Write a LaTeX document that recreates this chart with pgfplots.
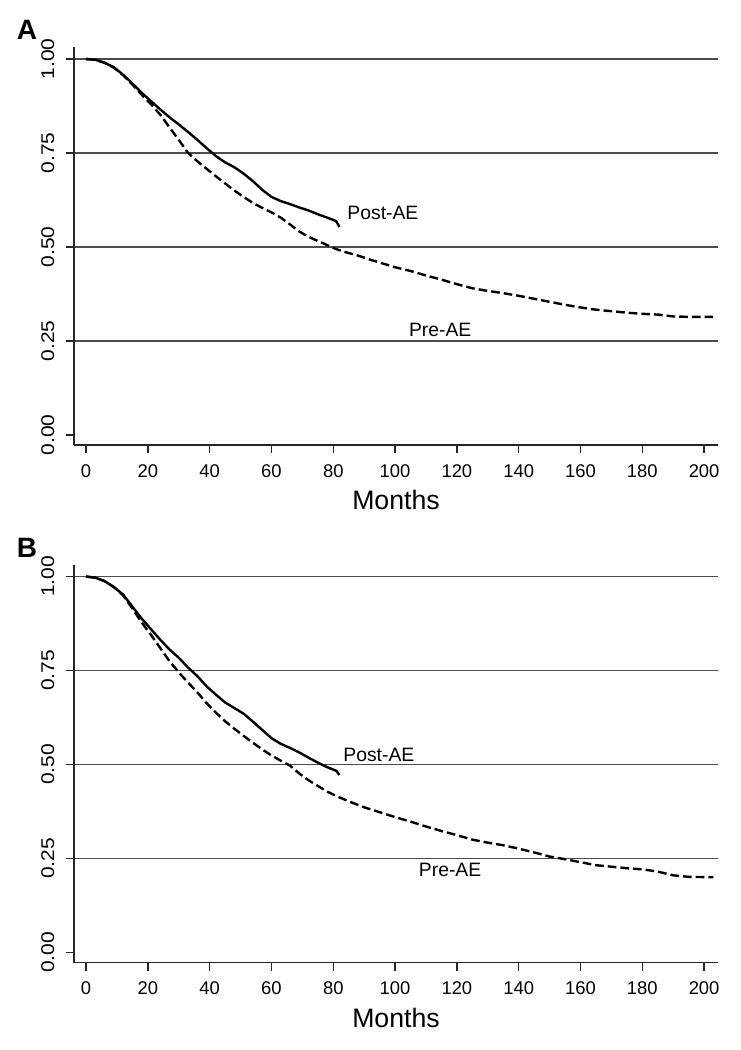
\documentclass[border=0pt]{standalone}
\usepackage{fontspec}
\setmainfont{Liberation Sans}
\newfontfamily\widefont[FakeStretch=1.14]{Liberation Sans}
\usepackage{pgfplots}
\pgfplotsset{compat=1.18}

\pgfplotsset{km/.style={
  scale only axis, width=483pt, height=298.5pt,
  xmin=-3.9, xmax=204.5, ymin=-0.027, ymax=1.032,
  axis x line*=bottom, axis y line*=left,
  axis line style={line width=1.3pt, color=black!85},
  xtick={0,20,...,200},
  ytick={0.25,0.5,0.75,1}, yticklabels={0.25,0.50,0.75,1.00},
  extra y ticks={0}, extra y tick labels={0.00}, extra y tick style={grid=none},
  ymajorgrids, major grid style={line width=1.2pt, color=black!70},
  tick align=outside, major tick length=6pt,
  tick style={line width=1pt, color=black!85},
  /pgf/number format/assume math mode=true,
  xticklabel style={font=\fontsize{13.8}{15}\selectfont, inner sep=0pt, anchor=north},
  xticklabel shift=8.5pt,
  yticklabel style={rotate=90, anchor=south, inner sep=0pt, font=\widefont\fontsize{13.8}{15}\selectfont},
  yticklabel shift=8.5pt,
  xlabel={Months}, xlabel style={font=\fontsize{20}{22}\selectfont, anchor=center, at={(rel axis cs:0.5,0)}, yshift=-41.25pt},
}}
\tikzset{post/.style={black, line width=1.8pt, line join=round}, pre/.style={black, line width=1.8pt, dash pattern=on 6.5pt off 3pt}}

\begin{document}
\begin{tikzpicture}
\useasboundingbox (0,0) rectangle (555pt,787.5pt);
\node[font=\bfseries\fontsize{21}{22}\selectfont] at (20.25pt,765pt) {A};
\node[font=\bfseries\fontsize{21}{22}\selectfont] at (20.25pt,376.5pt) {B};
\begin{axis}[km, at={(55.5pt,453.75pt)}, anchor=south west]
\addplot[pre] coordinates {(0,1.0)(3,0.998)(6,0.99)(9,0.977)(12,0.957)(15,0.932)(18,0.905)(21,0.88)(24,0.852)(27,0.818)(30,0.785)(33,0.750)(36,0.728)(39,0.708)(42,0.688)(45,0.669)(48,0.65)(51,0.633)(54,0.617)(57,0.604)(60,0.592)(63,0.578)(66,0.56)(69,0.541)(72,0.527)(75,0.516)(78,0.505)(81,0.494)(84,0.486)(88,0.477)(92,0.466)(96,0.456)(100,0.446)(105,0.436)(110,0.424)(115,0.413)(120,0.401)(125,0.39)(130,0.383)(135,0.377)(140,0.37)(145,0.362)(150,0.354)(155,0.346)(160,0.339)(165,0.333)(170,0.329)(175,0.325)(180,0.322)(185,0.32)(190,0.315)(195,0.314)(203,0.314)};
\addplot[post] coordinates {(0,1.0)(3,0.998)(6,0.99)(9,0.978)(12,0.958)(15,0.935)(18,0.91)(21,0.888)(24,0.866)(27,0.845)(30,0.826)(33,0.806)(36,0.785)(39,0.763)(42,0.742)(45,0.725)(48,0.712)(51,0.695)(54,0.675)(57,0.652)(60,0.633)(63,0.622)(66,0.614)(69,0.605)(72,0.597)(75,0.587)(78,0.578)(80,0.572)(81,0.568)(82,0.553)};
\node[anchor=west, inner sep=0pt, font=\fontsize{14.5}{16}\selectfont] at (axis cs:84.5,0.59) {Post-AE};
\node[inner sep=0pt, font=\fontsize{14.5}{16}\selectfont] at (axis cs:114.6,0.279) {Pre-AE};
\end{axis}
\begin{axis}[km, at={(55.5pt,65.6pt)}, anchor=south west]
\addplot[pre] coordinates {(0,1.0)(3,0.997)(6,0.988)(9,0.972)(12,0.95)(15,0.915)(18,0.878)(21,0.845)(24,0.81)(27,0.775)(30,0.745)(33,0.718)(36,0.692)(39,0.663)(42,0.638)(45,0.615)(48,0.595)(51,0.576)(54,0.558)(57,0.54)(60,0.524)(63,0.51)(66,0.497)(69,0.476)(72,0.458)(75,0.443)(78,0.428)(81,0.416)(85,0.402)(90,0.386)(95,0.373)(100,0.36)(105,0.348)(110,0.335)(115,0.323)(120,0.312)(125,0.3)(130,0.292)(135,0.285)(140,0.276)(145,0.266)(150,0.255)(155,0.248)(160,0.24)(165,0.232)(170,0.228)(175,0.224)(180,0.221)(185,0.215)(190,0.205)(195,0.201)(203,0.2)};
\addplot[post] coordinates {(0,1.0)(3,0.997)(6,0.988)(9,0.972)(12,0.952)(15,0.92)(18,0.888)(21,0.86)(24,0.832)(27,0.806)(30,0.784)(33,0.758)(36,0.735)(39,0.708)(42,0.686)(45,0.665)(48,0.65)(51,0.635)(54,0.614)(57,0.592)(60,0.57)(63,0.555)(66,0.544)(69,0.532)(72,0.518)(75,0.505)(78,0.493)(81,0.483)(82,0.472)};
\node[anchor=west, inner sep=0pt, font=\fontsize{14.5}{16}\selectfont] at (axis cs:83.2,0.525) {Post-AE};
\node[inner sep=0pt, font=\fontsize{14.5}{16}\selectfont] at (axis cs:117.8,0.219) {Pre-AE};
\end{axis}
\end{tikzpicture}
\end{document}
